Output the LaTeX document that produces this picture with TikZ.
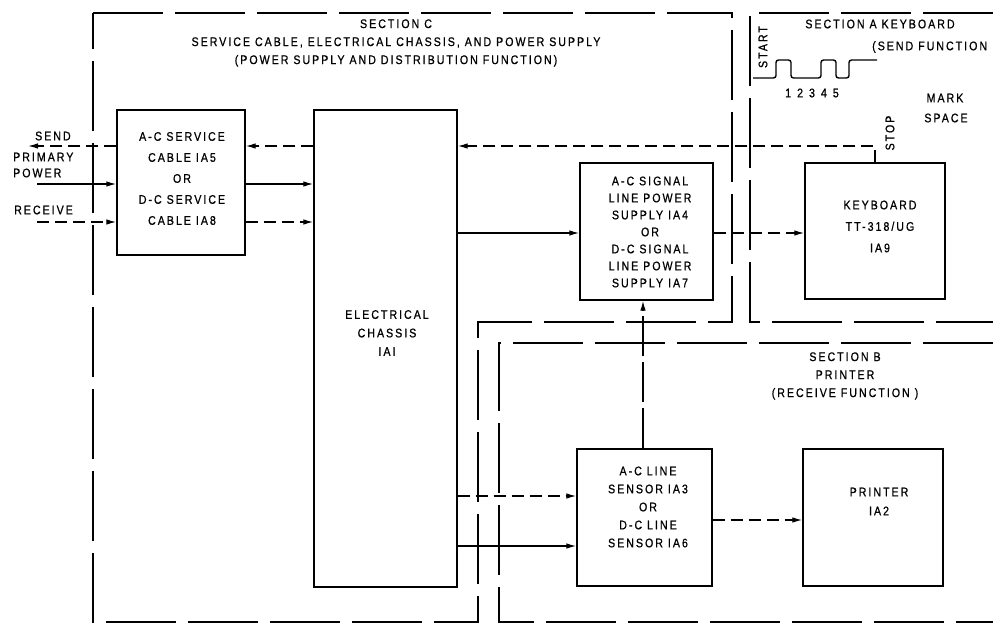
\documentclass[tikz,border=0pt]{standalone}
\usepackage{fontspec}
\newfontfamily\lbl{Liberation Sans}[FakeStretch=0.85,LetterSpace=16,FakeBold=0.8]
\usetikzlibrary{arrows.meta}
\begin{document}
\begin{tikzpicture}[x=1pt,y=-1pt,
  blk/.style={draw, line width=1.4pt, inner sep=0pt},
  txt/.style={font=\lbl\fontsize{12.5}{#1}\selectfont, align=center, inner sep=0pt},
  txt/.default=18,
  frame/.style={line width=1.8pt, dash pattern=on 70pt off 12pt},
  conn/.style={line width=1.2pt, -{Latex[length=10pt,width=5.5pt]}},
  dconn/.style={conn, dash pattern=on 12pt off 6pt},
  wave/.style={line width=1.4pt, rounded corners=2.5pt}]
\useasboundingbox (0,0) rectangle (993,624);

% section frames
\draw[frame] (93,13) -- (732,13) -- (732,322) -- (478,322) -- (478,622) -- (93,622) -- cycle;
\draw[frame] (993,13) -- (750,13) -- (750,322) -- (993,322);
\draw[frame] (993,343) -- (499,343) -- (499,622) -- (993,622);

% headers
\node[txt=18] (hdrC) at (396,43) {SECTION C\\SERVICE CABLE, ELECTRICAL CHASSIS, AND POWER SUPPLY\\(POWER SUPPLY AND DISTRIBUTION FUNCTION)};
\node[txt] (hdrA) at (880,24) {SECTION A KEYBOARD};
\node[txt, anchor=west] (sendfn) at (872,47) {(SEND FUNCTION};
\node[txt, rotate=90] (start) at (763,47) {START};
\node[txt, rotate=90] (stop) at (890,133) {STOP};
\node[txt] (bits) at (812,93) {\spaceskip=6pt 1 2 3 4 5};
\node[txt] (mark) at (945,98) {MARK};
\node[txt] (space) at (946,118) {SPACE};
\node[txt=18] (hdrB) at (845,376) {SECTION B\\PRINTER\\(RECEIVE FUNCTION )};

% left labels
\node[txt, anchor=west] (send) at (35,136) {SEND};
\node[txt, anchor=west] (primary) at (13,157) {PRIMARY};
\node[txt, anchor=west] (power) at (13,173) {POWER};
\node[txt, anchor=west] (receive) at (14,210) {RECEIVE};

% waveform
\draw[wave] (753,78) -- (776,78) -- (776,60) -- (791,60) -- (791,78) -- (821,78) -- (821,60) -- (836,60) -- (836,78) -- (849,78) -- (849,60) -- (877,60);

% boxes
\node[blk, minimum width=128pt, minimum height=145pt] (svc) at (181,182.5) {};
\node[blk, minimum width=143pt, minimum height=477pt] (chassis) at (385.5,348.5) {};
\node[blk, minimum width=133pt, minimum height=137pt] (sigps) at (646.5,231.5) {};
\node[blk, minimum width=140pt, minimum height=136pt] (kbd) at (875,231) {};
\node[blk, minimum width=135pt, minimum height=137pt] (sensor) at (644.5,517.5) {};
\node[blk, minimum width=140pt, minimum height=137pt] (printer) at (873,517.5) {};

% box texts
\node[txt=21] (svcT) at (182,178.5) {A-C SERVICE\\CABLE IA5\\OR\\D-C SERVICE\\CABLE IA8};
\node[txt=17] (sigT) at (650,232) {A-C SIGNAL\\LINE POWER\\SUPPLY IA4\\OR\\D-C SIGNAL\\LINE POWER\\SUPPLY IA7};
\node[txt=21.5] (kbdT) at (880,226.5) {KEYBOARD\\TT-318/UG\\IA9};
\node[txt=18.5] (chT) at (387,333) {ELECTRICAL\\CHASSIS\\IAI};
\node[txt=18] (senT) at (648,507) {A-C LINE\\SENSOR IA3\\OR\\D-C LINE\\SENSOR IA6};
\node[txt=19] (prT) at (879,501.5) {PRINTER\\IA2};

% helper coordinates
\coordinate (ya) at (0,146);
\coordinate (yb) at (0,184);
\coordinate (yc) at (0,222);
\coordinate (yd) at (0,233);
\coordinate (ye) at (0,496);
\coordinate (yf) at (0,546);
\coordinate (yg) at (0,520);
\coordinate (kx) at (875,0);
\coordinate (sx) at (643,0);
\coordinate (sendL) at (28,146);
\coordinate (pwrL) at (37,184);
\coordinate (rcvL) at (37,222);

% connectors
\draw[dconn] (svc.west |- ya) -- (sendL);
\draw[conn] (pwrL) -- (svc.west |- yb);
\draw[dconn] (rcvL) -- (svc.west |- yc);
\draw[dconn] (chassis.west |- ya) -- (svc.east |- ya);
\draw[conn] (svc.east |- yb) -- (chassis.west |- yb);
\draw[dconn] (svc.east |- yc) -- (chassis.west |- yc);
\draw[dconn] (kbd.north -| kx) -- (kx |- ya) -- (chassis.east |- ya);
\draw[conn] (chassis.east |- yd) -- (sigps.west |- yd);
\draw[dconn] (sigps.east |- yd) -- (kbd.west |- yd);
\draw[conn, dash pattern=on 40pt off 6pt] (sensor.north -| sx) -- (sigps.south -| sx);
\draw[dconn] (chassis.east |- ye) -- (sensor.west |- ye);
\draw[conn] (chassis.east |- yf) -- (sensor.west |- yf);
\draw[dconn] (sensor.east |- yg) -- (printer.west |- yg);
\end{tikzpicture}
\end{document}
